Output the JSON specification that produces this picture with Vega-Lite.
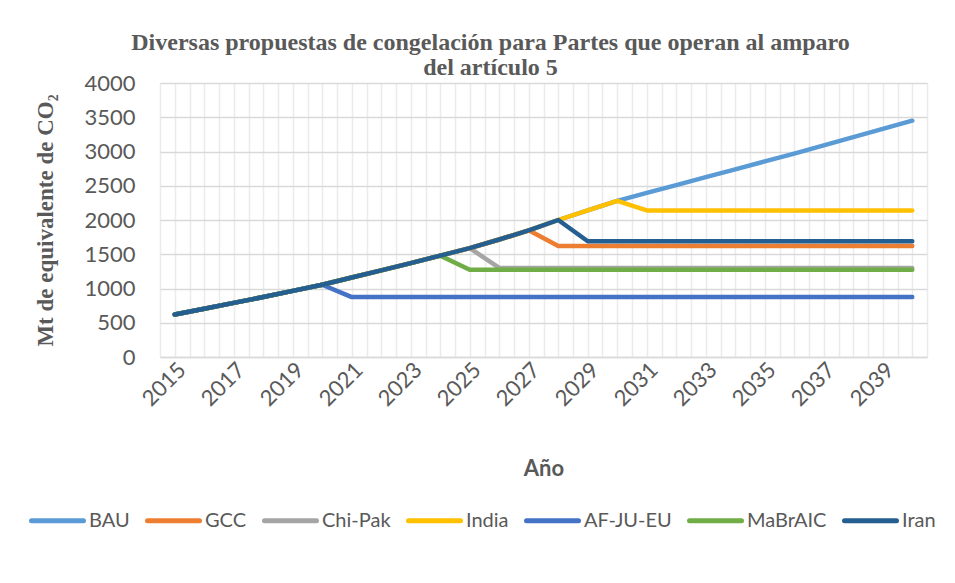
{
"$schema": "https://vega.github.io/schema/vega-lite/v6.json",
"width": 767, "height": 274,
"autosize": {"type": "none"},
"padding": {"left": 160, "top": 83, "right": 28, "bottom": 226},
"background": "white",
"title": {"text": ["Diversas propuestas de congelación para Partes que operan al amparo", "del artículo 5"], "font": "Liberation Serif", "fontSize": 24, "fontWeight": "bold", "color": "#595959", "anchor": "middle", "dx": -53, "offset": -8, "lineHeight": 25},
"data": {"values": [
{"y":2015,"s":"BAU","v":620},{"y":2016,"s":"BAU","v":705},{"y":2017,"s":"BAU","v":790},{"y":2018,"s":"BAU","v":875},{"y":2019,"s":"BAU","v":965},{"y":2020,"s":"BAU","v":1055},{"y":2021,"s":"BAU","v":1160},{"y":2022,"s":"BAU","v":1265},{"y":2023,"s":"BAU","v":1370},{"y":2024,"s":"BAU","v":1480},{"y":2025,"s":"BAU","v":1590},{"y":2026,"s":"BAU","v":1715},{"y":2027,"s":"BAU","v":1850},{"y":2028,"s":"BAU","v":2000},{"y":2029,"s":"BAU","v":2140},{"y":2030,"s":"BAU","v":2280},{"y":2031,"s":"BAU","v":2395},{"y":2032,"s":"BAU","v":2510},{"y":2033,"s":"BAU","v":2625},{"y":2034,"s":"BAU","v":2740},{"y":2035,"s":"BAU","v":2855},{"y":2036,"s":"BAU","v":2970},{"y":2037,"s":"BAU","v":3090},{"y":2038,"s":"BAU","v":3210},{"y":2039,"s":"BAU","v":3330},{"y":2040,"s":"BAU","v":3450},
{"y":2015,"s":"GCC","v":620},{"y":2016,"s":"GCC","v":705},{"y":2017,"s":"GCC","v":790},{"y":2018,"s":"GCC","v":875},{"y":2019,"s":"GCC","v":965},{"y":2020,"s":"GCC","v":1055},{"y":2021,"s":"GCC","v":1160},{"y":2022,"s":"GCC","v":1265},{"y":2023,"s":"GCC","v":1370},{"y":2024,"s":"GCC","v":1480},{"y":2025,"s":"GCC","v":1590},{"y":2026,"s":"GCC","v":1715},{"y":2027,"s":"GCC","v":1850},{"y":2028,"s":"GCC","v":1620},{"y":2029,"s":"GCC","v":1620},{"y":2030,"s":"GCC","v":1620},{"y":2031,"s":"GCC","v":1620},{"y":2032,"s":"GCC","v":1620},{"y":2033,"s":"GCC","v":1620},{"y":2034,"s":"GCC","v":1620},{"y":2035,"s":"GCC","v":1620},{"y":2036,"s":"GCC","v":1620},{"y":2037,"s":"GCC","v":1620},{"y":2038,"s":"GCC","v":1620},{"y":2039,"s":"GCC","v":1620},{"y":2040,"s":"GCC","v":1620},
{"y":2015,"s":"Chi-Pak","v":620},{"y":2016,"s":"Chi-Pak","v":705},{"y":2017,"s":"Chi-Pak","v":790},{"y":2018,"s":"Chi-Pak","v":875},{"y":2019,"s":"Chi-Pak","v":965},{"y":2020,"s":"Chi-Pak","v":1055},{"y":2021,"s":"Chi-Pak","v":1160},{"y":2022,"s":"Chi-Pak","v":1265},{"y":2023,"s":"Chi-Pak","v":1370},{"y":2024,"s":"Chi-Pak","v":1480},{"y":2025,"s":"Chi-Pak","v":1590},{"y":2026,"s":"Chi-Pak","v":1300},{"y":2027,"s":"Chi-Pak","v":1300},{"y":2028,"s":"Chi-Pak","v":1300},{"y":2029,"s":"Chi-Pak","v":1300},{"y":2030,"s":"Chi-Pak","v":1300},{"y":2031,"s":"Chi-Pak","v":1300},{"y":2032,"s":"Chi-Pak","v":1300},{"y":2033,"s":"Chi-Pak","v":1300},{"y":2034,"s":"Chi-Pak","v":1300},{"y":2035,"s":"Chi-Pak","v":1300},{"y":2036,"s":"Chi-Pak","v":1300},{"y":2037,"s":"Chi-Pak","v":1300},{"y":2038,"s":"Chi-Pak","v":1300},{"y":2039,"s":"Chi-Pak","v":1300},{"y":2040,"s":"Chi-Pak","v":1300},
{"y":2015,"s":"India","v":620},{"y":2016,"s":"India","v":705},{"y":2017,"s":"India","v":790},{"y":2018,"s":"India","v":875},{"y":2019,"s":"India","v":965},{"y":2020,"s":"India","v":1055},{"y":2021,"s":"India","v":1160},{"y":2022,"s":"India","v":1265},{"y":2023,"s":"India","v":1370},{"y":2024,"s":"India","v":1480},{"y":2025,"s":"India","v":1590},{"y":2026,"s":"India","v":1715},{"y":2027,"s":"India","v":1850},{"y":2028,"s":"India","v":2000},{"y":2029,"s":"India","v":2140},{"y":2030,"s":"India","v":2280},{"y":2031,"s":"India","v":2140},{"y":2032,"s":"India","v":2140},{"y":2033,"s":"India","v":2140},{"y":2034,"s":"India","v":2140},{"y":2035,"s":"India","v":2140},{"y":2036,"s":"India","v":2140},{"y":2037,"s":"India","v":2140},{"y":2038,"s":"India","v":2140},{"y":2039,"s":"India","v":2140},{"y":2040,"s":"India","v":2140},
{"y":2015,"s":"AF-JU-EU","v":620},{"y":2016,"s":"AF-JU-EU","v":705},{"y":2017,"s":"AF-JU-EU","v":790},{"y":2018,"s":"AF-JU-EU","v":875},{"y":2019,"s":"AF-JU-EU","v":965},{"y":2020,"s":"AF-JU-EU","v":1055},{"y":2021,"s":"AF-JU-EU","v":875},{"y":2022,"s":"AF-JU-EU","v":875},{"y":2023,"s":"AF-JU-EU","v":875},{"y":2024,"s":"AF-JU-EU","v":875},{"y":2025,"s":"AF-JU-EU","v":875},{"y":2026,"s":"AF-JU-EU","v":875},{"y":2027,"s":"AF-JU-EU","v":875},{"y":2028,"s":"AF-JU-EU","v":875},{"y":2029,"s":"AF-JU-EU","v":875},{"y":2030,"s":"AF-JU-EU","v":875},{"y":2031,"s":"AF-JU-EU","v":875},{"y":2032,"s":"AF-JU-EU","v":875},{"y":2033,"s":"AF-JU-EU","v":875},{"y":2034,"s":"AF-JU-EU","v":875},{"y":2035,"s":"AF-JU-EU","v":875},{"y":2036,"s":"AF-JU-EU","v":875},{"y":2037,"s":"AF-JU-EU","v":875},{"y":2038,"s":"AF-JU-EU","v":875},{"y":2039,"s":"AF-JU-EU","v":875},{"y":2040,"s":"AF-JU-EU","v":875},
{"y":2015,"s":"MaBrAIC","v":620},{"y":2016,"s":"MaBrAIC","v":705},{"y":2017,"s":"MaBrAIC","v":790},{"y":2018,"s":"MaBrAIC","v":875},{"y":2019,"s":"MaBrAIC","v":965},{"y":2020,"s":"MaBrAIC","v":1055},{"y":2021,"s":"MaBrAIC","v":1160},{"y":2022,"s":"MaBrAIC","v":1265},{"y":2023,"s":"MaBrAIC","v":1370},{"y":2024,"s":"MaBrAIC","v":1480},{"y":2025,"s":"MaBrAIC","v":1275},{"y":2026,"s":"MaBrAIC","v":1275},{"y":2027,"s":"MaBrAIC","v":1275},{"y":2028,"s":"MaBrAIC","v":1275},{"y":2029,"s":"MaBrAIC","v":1275},{"y":2030,"s":"MaBrAIC","v":1275},{"y":2031,"s":"MaBrAIC","v":1275},{"y":2032,"s":"MaBrAIC","v":1275},{"y":2033,"s":"MaBrAIC","v":1275},{"y":2034,"s":"MaBrAIC","v":1275},{"y":2035,"s":"MaBrAIC","v":1275},{"y":2036,"s":"MaBrAIC","v":1275},{"y":2037,"s":"MaBrAIC","v":1275},{"y":2038,"s":"MaBrAIC","v":1275},{"y":2039,"s":"MaBrAIC","v":1275},{"y":2040,"s":"MaBrAIC","v":1275},
{"y":2015,"s":"Iran","v":620},{"y":2016,"s":"Iran","v":705},{"y":2017,"s":"Iran","v":790},{"y":2018,"s":"Iran","v":875},{"y":2019,"s":"Iran","v":965},{"y":2020,"s":"Iran","v":1055},{"y":2021,"s":"Iran","v":1160},{"y":2022,"s":"Iran","v":1265},{"y":2023,"s":"Iran","v":1370},{"y":2024,"s":"Iran","v":1480},{"y":2025,"s":"Iran","v":1590},{"y":2026,"s":"Iran","v":1715},{"y":2027,"s":"Iran","v":1850},{"y":2028,"s":"Iran","v":2000},{"y":2029,"s":"Iran","v":1690},{"y":2030,"s":"Iran","v":1690},{"y":2031,"s":"Iran","v":1690},{"y":2032,"s":"Iran","v":1690},{"y":2033,"s":"Iran","v":1690},{"y":2034,"s":"Iran","v":1690},{"y":2035,"s":"Iran","v":1690},{"y":2036,"s":"Iran","v":1690},{"y":2037,"s":"Iran","v":1690},{"y":2038,"s":"Iran","v":1690},{"y":2039,"s":"Iran","v":1690},{"y":2040,"s":"Iran","v":1690}
]},
"mark": {"type": "line", "strokeWidth": 4.5, "strokeCap": "round", "strokeJoin": "round"},
"encoding": {
  "x": {"field": "y", "type": "quantitative", "title": "Año",
    "scale": {"domain": [2014.5, 2040.5], "nice": false, "zero": false},
    "axis": {"values": [2014.5,2015,2015.5,2016,2016.5,2017,2017.5,2018,2018.5,2019,2019.5,2020,2020.5,2021,2021.5,2022,2022.5,2023,2023.5,2024,2024.5,2025,2025.5,2026,2026.5,2027,2027.5,2028,2028.5,2029,2029.5,2030,2030.5,2031,2031.5,2032,2032.5,2033,2033.5,2034,2034.5,2035,2035.5,2036,2036.5,2037,2037.5,2038,2038.5,2039,2039.5,2040,2040.5],
      "labelExpr": "datum.value % 2 == 1 ? toString(datum.value) : ''",
      "labelOverlap": false, "labelAngle": -45, "labelAlign": "right", "labelBaseline": "top",
      "labelFont": "Lato", "labelFontSize": 22, "labelColor": "#595959", "labelPadding": 2,
      "ticks": false, "grid": true, "gridColor": "#EBEBEB", "gridWidth": 1.5,
      "domainColor": "#D9D9D9", "domainWidth": 1.5,
      "titleFont": "Lato", "titleFontSize": 22, "titleFontWeight": "bold", "titleColor": "#595959", "titlePadding": 49}},
  "y": {"field": "v", "type": "quantitative", "title": "Mt de equivalente de CO₂",
    "scale": {"domain": [0, 4000], "nice": false},
    "axis": {"values": [0,500,1000,1500,2000,2500,3000,3500,4000], "format": "d",
      "labelFont": "Lato", "labelFontSize": 22, "labelColor": "#595959", "labelPadding": 25,
      "ticks": false, "domain": false, "grid": true, "gridColor": "#D9D9D9", "gridWidth": 1.5,
      "titleFont": "Liberation Serif", "titleFontSize": 23, "titleFontWeight": "bold", "titleColor": "#595959", "titlePadding": 26}},
  "color": {"field": "s", "type": "nominal",
    "scale": {"domain": ["BAU","GCC","Chi-Pak","India","AF-JU-EU","MaBrAIC","Iran"], "range": ["#5B9BD5","#ED7D31","#A5A5A5","#FFC000","#4472C4","#70AD47","#255E91"]},
    "legend": {"orient": "none", "legendX": -131, "legendY": 409, "direction": "horizontal", "title": null,
      "symbolType": "stroke", "symbolSize": 2704, "symbolStrokeWidth": 5,
      "labelFont": "Lato", "labelFontSize": 20, "labelColor": "#595959", "labelOffset": 3, "columnPadding": 7,
      "encode": {"symbols": {"update": {"strokeCap": {"value": "round"}}}}}}
},
"config": {"view": {"stroke": null}}
}
